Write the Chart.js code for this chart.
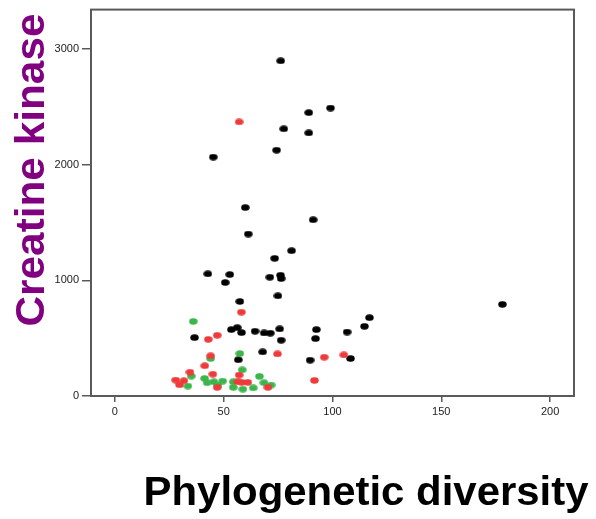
<!DOCTYPE html>
<html>
<head>
<meta charset="utf-8">
<script src="https://cdn.jsdelivr.net/npm/chart.js@4.4.1/dist/chart.umd.min.js"></script>
<style>
  html, body { margin: 0; padding: 0; background: #fff; }
</style>
</head>
<body>
<canvas id="chart" width="596" height="519"></canvas>
<script>
// tick labels
const xTicks = [0, 50, 100, 150, 200];
const yTicks = [0, 1000, 2000, 3000];

// black group
const blackPD = [76.2, 99.1, 89.1, 77.6, 89.1, 74.3, 45.2, 59.9, 91.1, 61.3, 81.2, 73.4, 42.7, 52.8, 50.7, 71.2, 76.1, 76.4, 74.9, 57.4,
                 36.6, 53.5, 56.2, 58.2, 64.4, 68.6, 71.4, 75.7, 76.4, 92.6, 92.2, 67.9, 56.7, 89.7, 106.7, 108.3, 114.7, 117.0, 178.1];
const blackCK = [2897, 2489, 2449, 2309, 2274, 2125, 2065, 1629, 1523, 1400, 1256, 1190, 1056, 1050, 981, 1027, 1044, 1015, 866, 817,
                 505, 574, 591, 548, 560, 545, 543, 580, 482, 574, 496, 381, 313, 310, 553, 324, 602, 677, 792];

// red group
const redPD = [57.1, 58.1, 42.9, 47.0, 44.0, 41.3, 45.0, 34.5, 27.9, 31.7, 29.7, 47.0, 57.1, 56.5, 58.3, 61.1, 70.3, 74.7, 96.2, 105.2, 91.7];
const redCK = [2369, 725, 490, 525, 347, 261, 189, 206, 138, 132, 97, 75, 181, 123, 118, 118, 75, 364, 335, 355, 135];

// green group
const greenPD = [36.0, 44.0, 57.4, 58.5, 35.1, 33.5, 41.2, 42.4, 45.5, 49.5, 47.3, 54.4, 54.4, 58.8, 63.6, 66.4, 68.5, 71.8];
const greenCK = [645, 324, 367, 226, 172, 86, 152, 115, 123, 129, 95, 123, 75, 59, 70, 170, 115, 95];

function pairs(xs, ys) {
    return xs.map((x, i) => ({ x: x, y: ys[i] }));
}

// slightly oval dots like the original
function makeDot(color) {
    const c = document.createElement('canvas');
    c.width = 9;
    c.height = 7;
    const g = c.getContext('2d');
    g.fillStyle = color;
    g.beginPath();
    g.ellipse(4.5, 3.5, 4.2, 3.2, 0, 0, Math.PI * 2);
    g.fill();
    return c;
}

const frameColor = '#5a5a5a';

const framePlugin = {
    id: 'frame',
    afterDatasetsDraw(chart) {
        const a = chart.chartArea;
        const ctx = chart.ctx;
        ctx.save();
        ctx.strokeStyle = frameColor;
        ctx.lineWidth = 2;
        ctx.strokeRect(a.left, a.top, a.right - a.left, a.bottom - a.top);
        ctx.restore();
    }
};

const titlePlugin = {
    id: 'titles',
    afterDraw(chart) {
        const ctx = chart.ctx;
        // y title
        ctx.save();
        ctx.fillStyle = '#800080';
        ctx.font = 'bold 40px "Liberation Sans", Arial, sans-serif';
        ctx.textAlign = 'center';
        ctx.textBaseline = 'alphabetic';
        ctx.translate(44, 170);
        ctx.rotate(-Math.PI / 2);
        let w = ctx.measureText('Creatine kinase').width;
        ctx.scale(313 / w, 1);
        ctx.fillText('Creatine kinase', 0, 0);
        ctx.restore();

        // x title
        ctx.save();
        ctx.fillStyle = '#000';
        ctx.font = 'bold 40px "Liberation Sans", Arial, sans-serif';
        ctx.textAlign = 'center';
        ctx.textBaseline = 'alphabetic';
        ctx.translate(366, 505);
        w = ctx.measureText('Phylogenetic diversity').width;
        ctx.scale(445 / w, 1);
        ctx.fillText('Phylogenetic diversity', 0, 0);
        ctx.restore();
    }
};

const tickFont = { size: 11, family: '"Liberation Sans", Arial, sans-serif' };

new Chart(document.getElementById('chart'), {
    type: 'scatter',
    data: {
        datasets: [
            { label: 'red', data: pairs(redPD, redCK), pointStyle: makeDot('#ee3a3a'), order: 0 },
            { label: 'green', data: pairs(greenPD, greenCK), pointStyle: makeDot('#3cb54a'), order: 1 },
            { label: 'black', data: pairs(blackPD, blackCK), pointStyle: makeDot('#000000'), order: 2 }
        ]
    },
    options: {
        responsive: false,
        animation: false,
        layout: { padding: { left: 0, top: 8, right: 22, bottom: 0 } },
        elements: { point: { radius: 4, hoverRadius: 4 } },
        plugins: {
            legend: { display: false },
            tooltip: { enabled: false }
        },
        scales: {
            x: {
                type: 'linear',
                min: -11,
                max: 211,
                afterBuildTicks: (s) => { s.ticks = xTicks.map(v => ({ value: v })); },
                afterFit: (s) => { s.height = 123; },
                grid: { drawOnChartArea: false, drawTicks: true, tickLength: 6, color: frameColor, lineWidth: 1.5 },
                border: { display: false },
                ticks: { padding: 3, color: '#222', font: tickFont, maxRotation: 0, callback: (v) => String(v) }
            },
            y: {
                type: 'linear',
                min: 0,
                max: 3340,
                afterBuildTicks: (s) => { s.ticks = yTicks.map(v => ({ value: v })); },
                afterFit: (s) => { s.width = 91; },
                grid: { drawOnChartArea: false, drawTicks: true, tickLength: 9, color: frameColor, lineWidth: 1.5 },
                border: { display: false },
                ticks: { padding: 3, color: '#222', font: tickFont, callback: (v) => String(v) }
            }
        }
    },
    plugins: [framePlugin, titlePlugin]
});
</script>
</body>
</html>
